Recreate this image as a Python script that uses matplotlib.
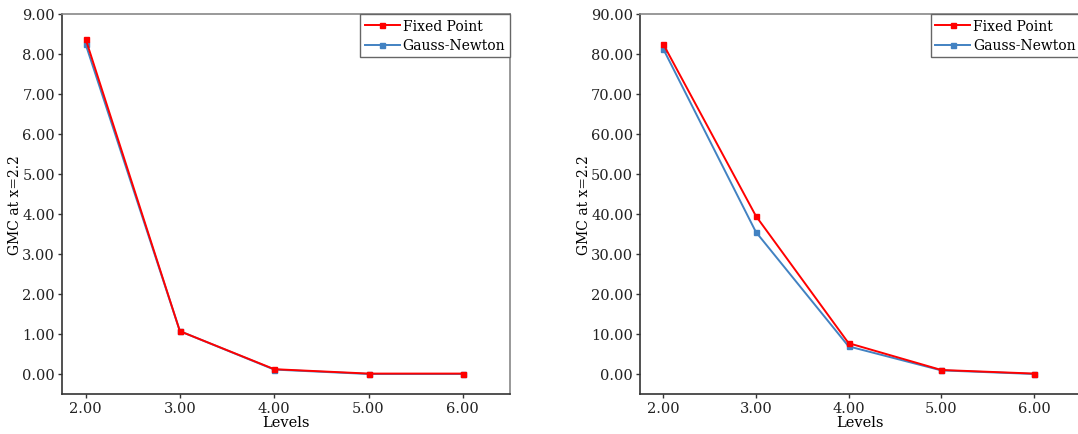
import matplotlib.pyplot as plt
from matplotlib import rcParams

rcParams['font.family'] = ['DejaVu Serif']
rcParams['font.size'] = 10.5

# data
levels = [2, 3, 4, 5, 6]
fixed_left = [8.38, 1.07, 0.12, 0.01, 0.01]
gauss_left = [8.25, 1.07, 0.11, 0.00, 0.00]
fixed_right = [82.5, 39.5, 7.7, 1.0, 0.1]
gauss_right = [81.3, 35.5, 6.9, 0.9, 0.0]

yticks_left = [0, 1, 2, 3, 4, 5, 6, 7, 8, 9]
yticks_right = [0, 10, 20, 30, 40, 50, 60, 70, 80, 90]

red = '#ff0000'
blue = '#4282c2'

fig = plt.figure(figsize=(10.78, 4.35), dpi=100)
ax1 = fig.add_axes([0.0575, 0.092, 0.4156, 0.8736])
ax2 = fig.add_axes([0.5937, 0.092, 0.4085, 0.8736])


def style(ax, fixed, gauss, yticks, ylim):
    ax.plot(levels, gauss, color=blue, marker='s', ms=3.6, lw=1.4, label='Gauss-Newton', zorder=2)
    ax.plot(levels, fixed, color=red, marker='s', ms=3.6, lw=1.4, label='Fixed Point', zorder=3)
    ax.set_xlim(1.75, 6.5)
    ax.set_ylim(*ylim)
    ax.set_xticks(levels, labels=[f'{v:.2f}' for v in levels])
    ax.set_yticks(yticks, labels=[f'{v:.2f}' for v in yticks])
    ax.tick_params(direction='out', length=3, width=1, colors='#333333', labelcolor='#222222',
                   labelsize=10.5, pad=2)
    for s in ['left', 'bottom']:
        ax.spines[s].set_color('#333333')
        ax.spines[s].set_linewidth(1.2)
    for s in ['top', 'right']:
        ax.spines[s].set_color('#888888')
        ax.spines[s].set_linewidth(1.2)
    ax.set_xlabel('Levels', fontsize=10.5, labelpad=0)
    ax.set_ylabel('GMC at x=2.2', fontsize=10, labelpad=0)
    h, l = ax.get_legend_handles_labels()
    leg = ax.legend(h[::-1], l[::-1], loc='upper right', borderaxespad=0, fancybox=False,
                    framealpha=1, edgecolor='#666666', handlelength=2.5, handletextpad=0.2,
                    borderpad=0.35, labelspacing=0.4, fontsize=10)
    leg.get_frame().set_linewidth(1.0)


style(ax1, fixed_left, gauss_left, yticks_left, (-0.5, 9.0))
style(ax2, fixed_right, gauss_right, yticks_right, (-5, 90))

fig.savefig('out.png', dpi=100)
